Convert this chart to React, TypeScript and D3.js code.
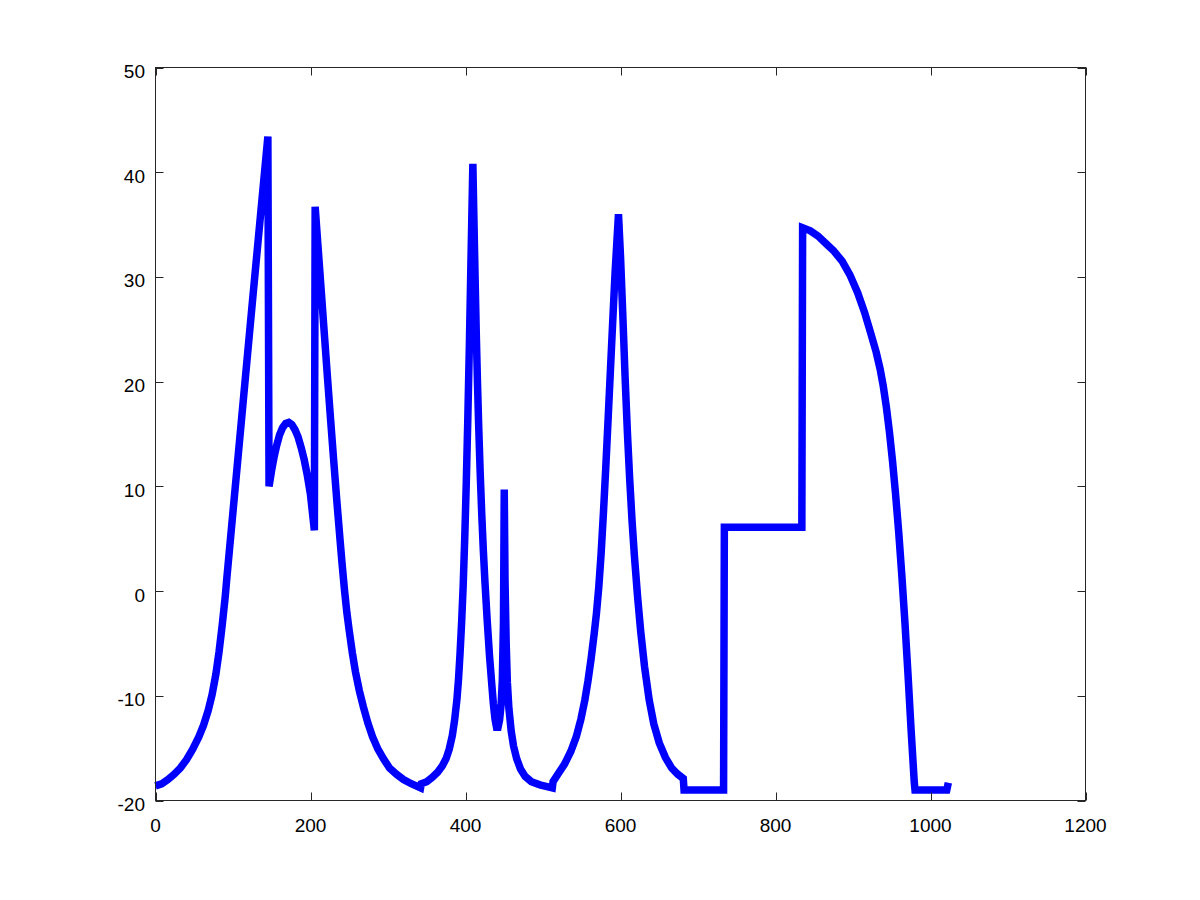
import React, { useRef, useEffect } from 'react';
import * as d3 from 'd3';

// x and y ticks of the axes
const xTicks = [0, 200, 400, 600, 800, 1000, 1200];
const yTicks = [-20, -10, 0, 10, 20, 30, 40, 50];

// the signal: [sample, value]
const firstPulse: [number, number][] = [
  [0, -18.6], [8, -18.4], [16, -18.0], [24, -17.5], [32, -16.9], [40, -16.1],
  [48, -15.1], [56, -13.9], [62, -12.8], [68, -11.4], [73, -9.9], [78, -7.9],
  [82, -5.8], [86, -3.3], [90, -0.5], [92, 1.2], [96, 4.4], [105, 11.6],
  [115, 19.6], [125, 27.6], [135, 35.5], [145, 43.4],
  [146.5, 10], [150, 11.6], [153, 12.8], [156, 13.8], [160, 14.9], [164, 15.6],
  [168, 16.0], [172, 16.1], [176, 15.9], [180, 15.4], [184, 14.7], [188, 13.7],
  [192, 12.5], [196, 11.0], [200, 9.2], [205, 5.8],
  [206, 36.7], [210, 32.6], [214, 28.5], [218, 24.4], [222, 20.3], [226, 16.3],
  [230, 12.4], [234, 8.6], [238, 5.0], [241, 2.4], [244, 0], [247, -2.1],
  [250, -3.8], [254, -5.9], [258, -7.7], [263, -9.5], [268, -11.0], [274, -12.6],
  [280, -13.9], [287, -15.1], [294, -16.0], [302, -16.9], [311, -17.5], [320, -18.0],
  [330, -18.4], [342, -18.8]
];

const secondPulse: [number, number][] = [
  [343, -18.4], [350, -18.2], [357, -17.8], [364, -17.3], [370, -16.7], [375, -16.0],
  [379, -15.1], [383, -13.8], [386, -12.3], [389, -10.3], [391, -8.4], [393, -5.9],
  [395, -3.0], [397, 0.5], [399, 5.0], [401, 10.3], [403, 16.5], [405, 23.5],
  [407, 31.3], [409.5, 40.8], [411, 35], [412.5, 29.5], [414, 24.3], [415.5, 19.8],
  [417, 15.8], [419, 11.2], [421, 7.3], [423, 3.9], [425, 1.0], [428, -2.8],
  [431, -6.2], [434, -9.0], [436, -10.8], [438, -12.2], [440, -13.0], [442, -13.0],
  [444, -12.3], [446, -10.8], [447.5, -8.5], [449, -3], [450, 9.7], [451, 1],
  [452.5, -5], [454, -8.7], [456, -11.2], [459, -13.4], [462, -14.8], [466, -16.0],
  [471, -17.0], [477, -17.7], [485, -18.2], [496, -18.5], [512, -18.8]
];

const thirdPulse: [number, number][] = [
  [513, -18.2], [520, -17.4], [528, -16.5], [536, -15.3], [543, -13.9], [549, -12.2],
  [554, -10.4], [558, -8.6], [562, -6.5], [566, -4.1], [569, -2.1], [572, 0.4],
  [575, 3.6], [578, 7.5], [581, 11.8], [584, 16.4], [587, 21.1], [590, 25.8],
  [593, 30.4], [597.4, 36], [600, 32], [603, 26.3], [606, 20.3], [609, 15.0],
  [612, 10.5], [615, 6.6], [618, 3.3], [622, -0.5], [626, -3.8], [631, -7.2],
  [637, -10.4], [643, -12.7], [650, -14.5], [658, -15.9], [666, -16.9], [674, -17.5],
  [681, -17.9]
];

const lastPulse: [number, number][] = [
  [682, -19], [733, -19], [734, 6.1], [834, 6.1], [835, 34.7], [845, 34.4],
  [855, 33.9], [865, 33.2], [875, 32.5], [886, 31.5], [896, 30.2], [906, 28.5],
  [915, 26.6], [923, 24.6], [930, 22.8], [935, 21.2], [939, 19.6], [943, 17.6],
  [947, 15.2], [951, 12.4], [955, 9.2], [959, 5.6], [963, 1.5], [967, -3.0],
  [971, -8.0], [975, -13.3], [979, -18.2], [980, -19], [1021, -19], [1023, -18.3]
];

const App = () => {
  const chartRef = useRef<SVGSVGElement>(null);

  useEffect(() => {
    document.body.style.margin = '0';
    const svg = d3.select(chartRef.current);
    svg.selectAll('*').remove();

    const width = 1200;
    const height = 900;
    const left = 155.5, right = 1085.5, top = 67.5, bottom = 800.5;
    const tickLen = 8;
    const axisColor = '#262626';
    const font = '"Liberation Sans", Arial, sans-serif';

    const x = d3.scaleLinear().domain([0, 1200]).range([left, right]);
    const y = d3.scaleLinear().domain([-20, 50]).range([bottom, top]);

    svg.append('rect')
      .attr('width', width)
      .attr('height', height)
      .attr('fill', '#fff');

    const data = [...firstPulse, ...secondPulse, ...thirdPulse, ...lastPulse];

    const line = d3.line<[number, number]>()
      .x(d => x(d[0]))
      .y(d => y(d[1]));

    svg.append('path')
      .datum(data)
      .attr('fill', 'none')
      .attr('stroke', '#0000ff')
      .attr('stroke-width', 7.5)
      .attr('stroke-linejoin', 'miter')
      .attr('d', line);

    // box
    svg.append('rect')
      .attr('x', left)
      .attr('y', top)
      .attr('width', right - left)
      .attr('height', bottom - top)
      .attr('fill', 'none')
      .attr('stroke', axisColor)
      .attr('stroke-width', 1);

    const ticks = svg.append('g').attr('stroke', axisColor).attr('stroke-width', 1);
    xTicks.forEach(t => {
      const px = Math.round(x(t)) + 0.5;
      ticks.append('line').attr('x1', px).attr('x2', px).attr('y1', bottom).attr('y2', bottom - tickLen);
      ticks.append('line').attr('x1', px).attr('x2', px).attr('y1', top).attr('y2', top + tickLen);
    });
    yTicks.forEach(t => {
      const py = Math.round(y(t)) + 0.5;
      ticks.append('line').attr('x1', left).attr('x2', left + tickLen).attr('y1', py).attr('y2', py);
      ticks.append('line').attr('x1', right).attr('x2', right - tickLen).attr('y1', py).attr('y2', py);
    });

    svg.append('g')
      .selectAll('text')
      .data(xTicks)
      .join('text')
      .attr('x', d => x(d))
      .attr('y', bottom + 31)
      .attr('text-anchor', 'middle')
      .attr('font-family', font)
      .attr('font-size', 19)
      .attr('fill', '#000')
      .text(d => String(d));

    svg.append('g')
      .selectAll('text')
      .data(yTicks)
      .join('text')
      .attr('x', left - 10.5)
      .attr('y', d => y(d) + 10.5)
      .attr('text-anchor', 'end')
      .attr('font-family', font)
      .attr('font-size', 19)
      .attr('fill', '#000')
      .text(d => String(d));
  }, []);

  return (
    <svg
      ref={chartRef}
      width={1200}
      height={900}
      style={{ display: 'block', position: 'absolute', left: 0, top: 0 }}
    />
  );
};

export default App;
